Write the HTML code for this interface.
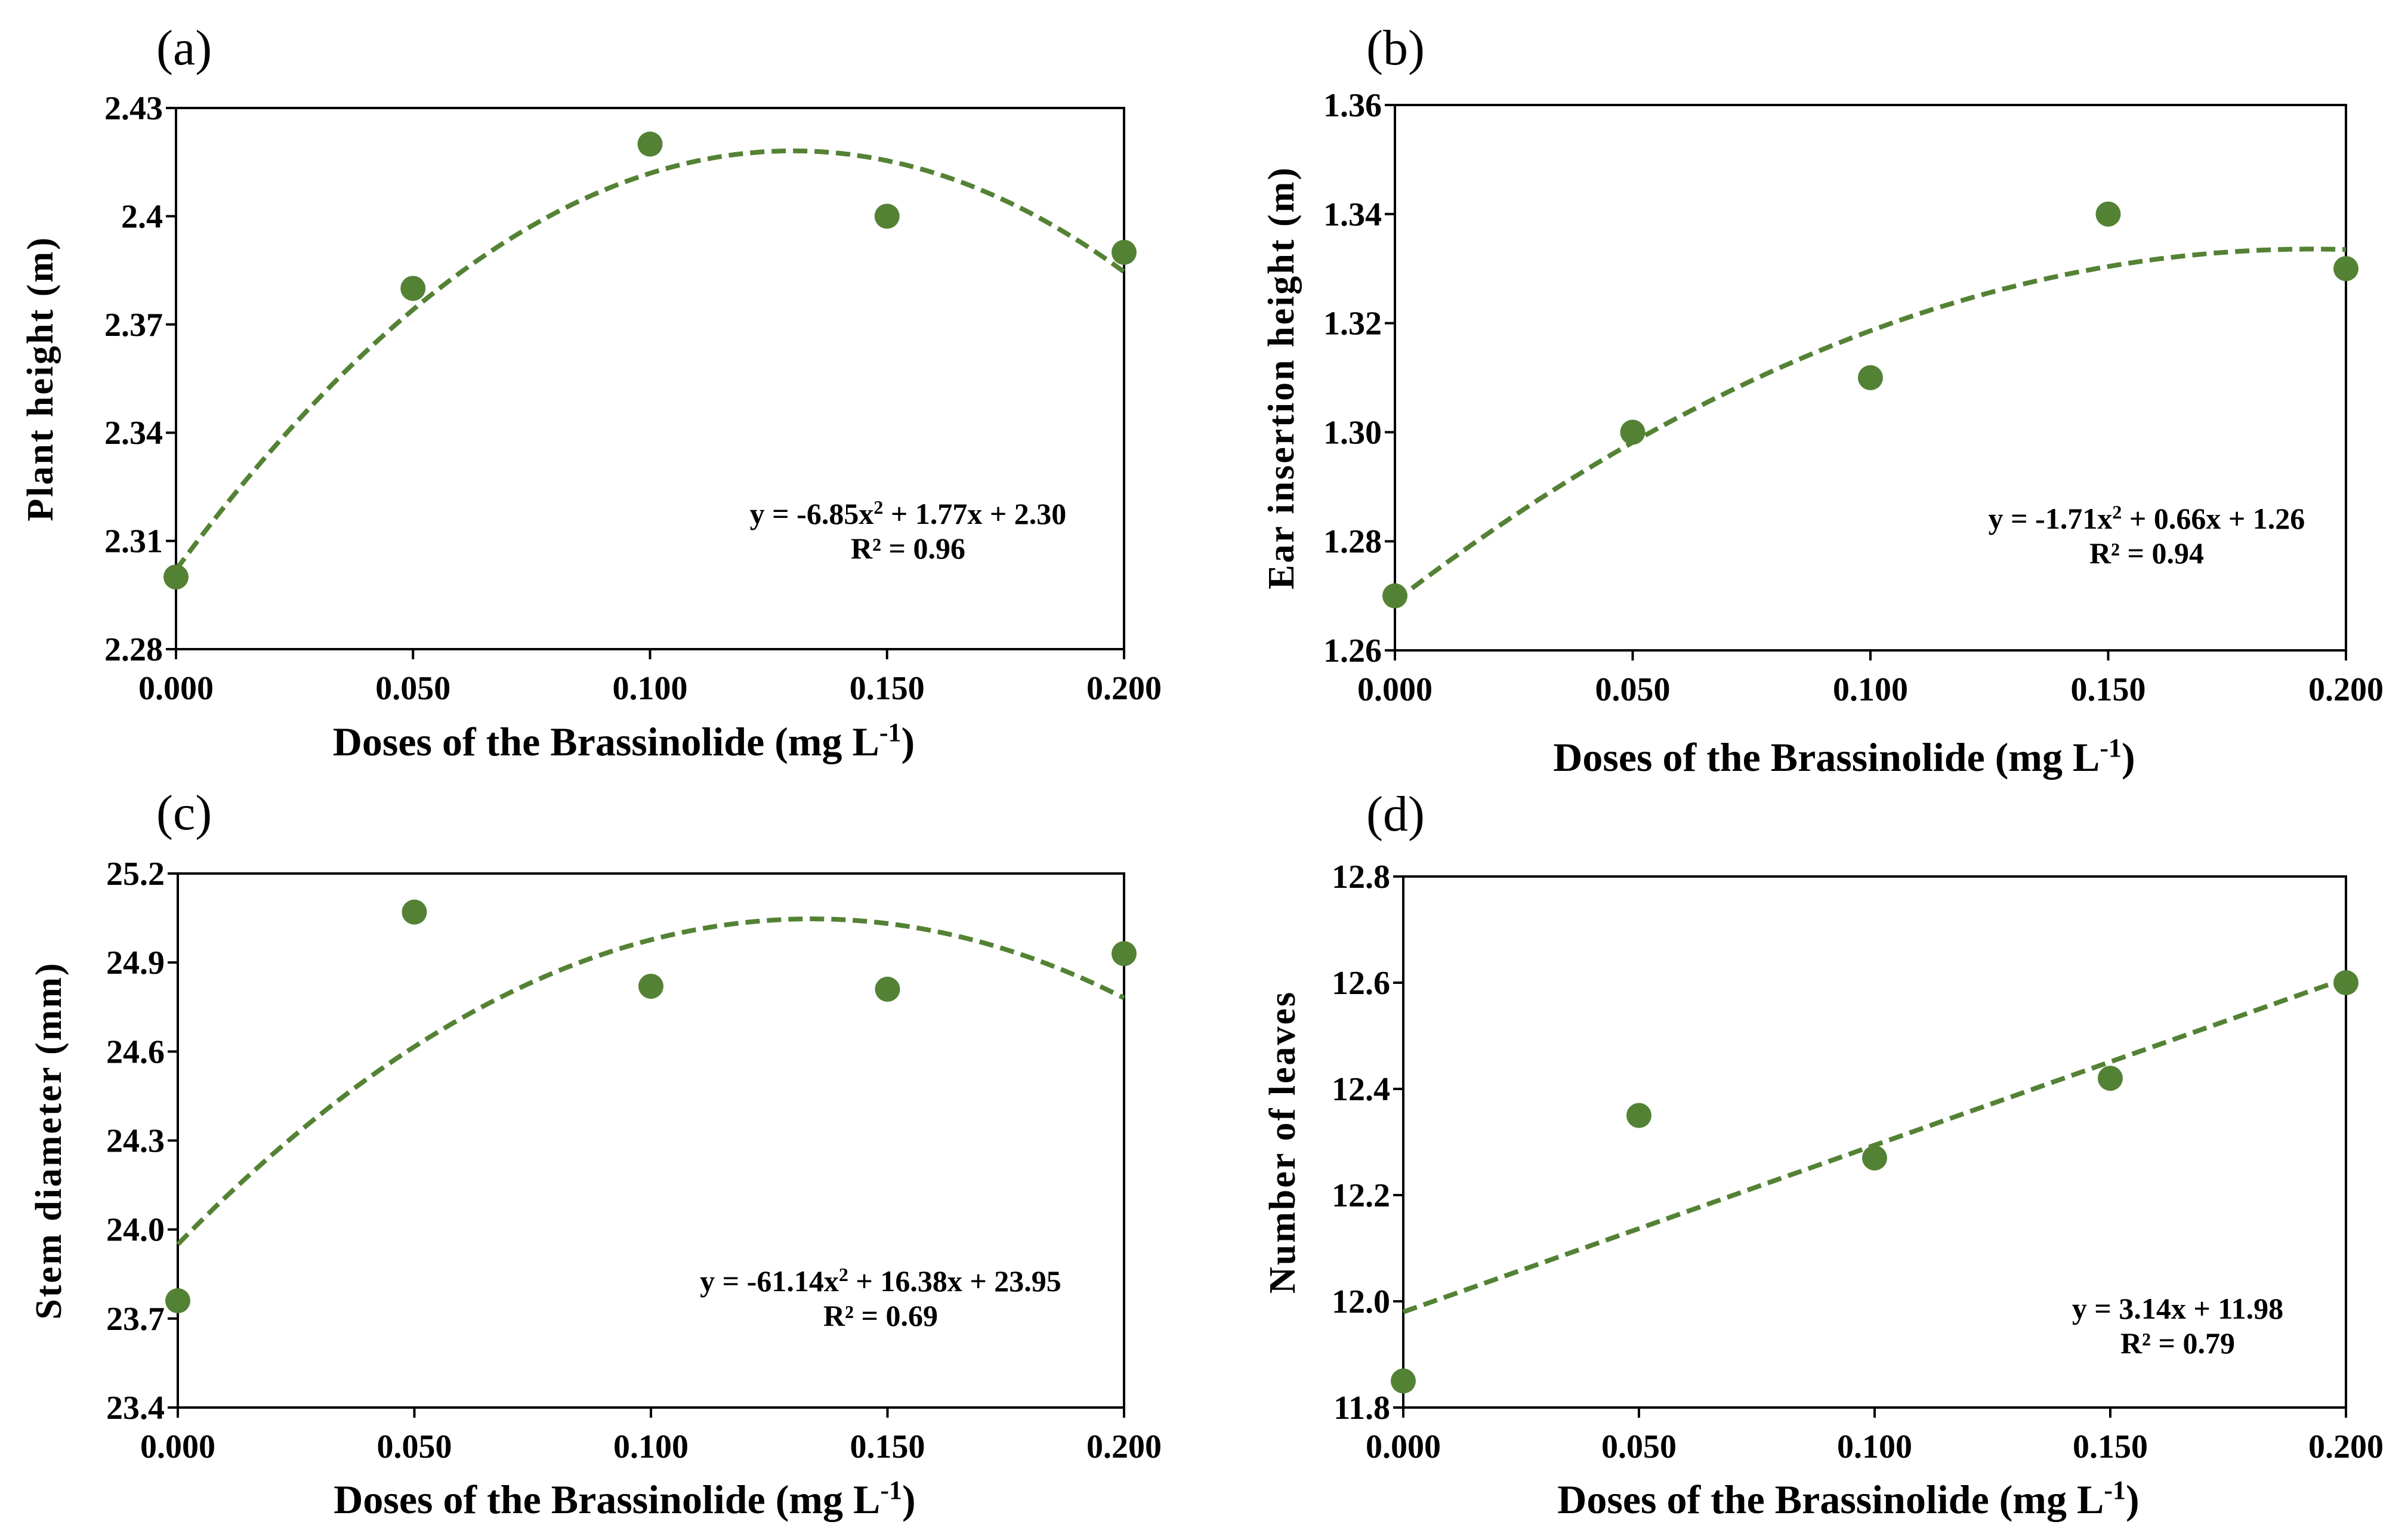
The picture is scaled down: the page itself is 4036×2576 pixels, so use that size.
<!DOCTYPE html>
<html><head><meta charset="utf-8"><style>
html,body{margin:0;padding:0;background:#fff;}
svg{display:block;}
text{font-family:"Liberation Serif",serif;}
</style></head><body>
<svg id="fig" width="4036" height="2576" viewBox="0 0 4036 2576" xmlns="http://www.w3.org/2000/svg"></svg>
<script>
const doses = [0, 0.05, 0.1, 0.15, 0.2];
const xTickLabels = ["0.000","0.050","0.100","0.150","0.200"];
const plantHeight = [2.30, 2.38, 2.42, 2.40, 2.39];
const earHeight = [1.27, 1.30, 1.31, 1.34, 1.33];
const stemDiameter = [23.76, 25.07, 24.82, 24.81, 24.93];
const leaves = [11.85, 12.35, 12.27, 12.42, 12.60];
const ticksA = ["2.28","2.31","2.34","2.37","2.4","2.43"];
const ticksB = ["1.26","1.28","1.30","1.32","1.34","1.36"];
const ticksC = ["23.4","23.7","24.0","24.3","24.6","24.9","25.2"];
const ticksD = ["11.8","12.0","12.2","12.4","12.6","12.8"];
const fitA = [-6.86, 1.785, 2.302];
const fitB = [-1.735, 0.6695, 1.269];
const fitC = [-61.14, 16.38, 23.95];
const fitD = [0, 3.14, 11.98];

const NS="http://www.w3.org/2000/svg";
const svg=document.getElementById('fig');
const GREEN="#548235";
function mk(tag,attrs,parent){const e=document.createElementNS(NS,tag);for(const k in attrs)e.setAttribute(k,attrs[k]);(parent||svg).appendChild(e);return e;}

function panel(p){
  const g=mk('g',{});
  
  
  const ymin=parseFloat(p.ticks[0]), ymax=parseFloat(p.ticks[p.ticks.length-1]);
  const sx=v=>p.L+(v-0)/(0.2)*(p.R-p.L);
  const sy=v=>p.B-(v-ymin)/(ymax-ymin)*(p.B-p.T);
  const fr=mk('rect',{x:p.L,y:p.T,width:p.R-p.L,height:p.B-p.T,fill:'none',stroke:'#000','stroke-width':4},g);
  
  
  p.ticks.forEach(t=>{
    const y=sy(parseFloat(t));
    mk('line',{x1:p.L-17,x2:p.L,y1:y,y2:y,stroke:'#000','stroke-width':4},g);
    const tx=mk('text',{x:p.L-22,y:y+19,'text-anchor':'end','font-size':56,'font-weight':'bold'},g);
    tx.textContent=t;
    
    
  });
  doses.forEach((d,i)=>{
    const x=sx(d);
    mk('line',{x1:x,x2:x,y1:p.B,y2:p.B+17,stroke:'#000','stroke-width':4},g);
    const tx=mk('text',{x:x,y:p.B+84,'text-anchor':'middle','font-size':56,'font-weight':'bold'},g);
    tx.textContent=xTickLabels[i];
    
    
  });
  let dstr='';
  for(let i=0;i<=100;i++){const x=0.2*i/100;const y=p.fit[0]*x*x+p.fit[1]*x+p.fit[2];dstr+=(i?'L':'M')+sx(x).toFixed(1)+' '+sy(y).toFixed(1);}
  const fl=mk('path',{d:dstr,fill:'none',stroke:GREEN,'stroke-width':8,'stroke-dasharray':'24 12'},g);
  
  
  p.vals.forEach((v,i)=>{
    const c=mk('circle',{cx:sx(doses[i]),cy:sy(v),r:21,fill:GREEN},g);
    
    
  });
  const pl=mk('text',{x:p.labX,y:p.labY,'font-size':84},g);
  pl.textContent='('+p.id+')';
  
  
  const xt=mk('text',{x:(p.L+p.R)/2-44,y:p.xtY,'text-anchor':'middle','font-size':68,'font-weight':'bold'},g);
  xt.setAttribute('xml:space','preserve');
  xt.innerHTML='Doses of the Brassinolide  (mg L<tspan dy="-24" font-size="44">-1</tspan><tspan dy="24">)</tspan>';
  
  
  const yt=mk('text',{x:0,y:0,'text-anchor':'middle','font-size':62,'font-weight':'bold','letter-spacing':3,transform:`translate(${p.ytX},${(p.T+p.B)/2}) rotate(-90)`},g);
  yt.textContent=p.ytitle;
  
  
  const e1=mk('text',{x:p.eqX,y:p.eqY,'text-anchor':'middle','font-size':50,'font-weight':'bold'},g);
  e1.innerHTML=p.eq;
  
  
  const e2=mk('text',{x:p.eqX,y:p.eqY+58,'text-anchor':'middle','font-size':50,'font-weight':'bold'},g);
  e2.innerHTML=p.r2;
  
  
}
panel({id:'a',L:295,R:1884,T:181,B:1088,ticks:ticksA,vals:plantHeight,fit:fitA,labX:262,labY:108,xtY:1266,ytX:88,ytitle:'Plant height (m)',eqX:1522,eqY:878,eq:'y = -6.85x<tspan dy="-17" font-size="32">2</tspan><tspan dy="17"> + 1.77x + 2.30</tspan>',r2:'R² = 0.96'});
panel({id:'b',L:2338,R:3932,T:176,B:1090,ticks:ticksB,vals:earHeight,fit:fitB,labX:2290,labY:108,xtY:1292,ytX:2168,ytitle:'Ear insertion height (m)',eqX:3598,eqY:886,eq:'y = -1.71x<tspan dy="-17" font-size="32">2</tspan><tspan dy="17"> + 0.66x + 1.26</tspan>',r2:'R² = 0.94'});
panel({id:'c',L:298,R:1884,T:1464,B:2359,ticks:ticksC,vals:stemDiameter,fit:fitC,labX:262,labY:1390,xtY:2536,ytX:102,ytitle:'Stem diameter (mm)',eqX:1476,eqY:2164,eq:'y = -61.14x<tspan dy="-17" font-size="32">2</tspan><tspan dy="17"> + 16.38x + 23.95</tspan>',r2:'R² = 0.69'});
panel({id:'d',L:2352,R:3932,T:1469,B:2359,ticks:ticksD,vals:leaves,fit:fitD,labX:2290,labY:1392,xtY:2536,ytX:2170,ytitle:'Number of leaves',eqX:3650,eqY:2210,eq:'y = 3.14x + 11.98',r2:'R² = 0.79'});
</script>
</body></html>
